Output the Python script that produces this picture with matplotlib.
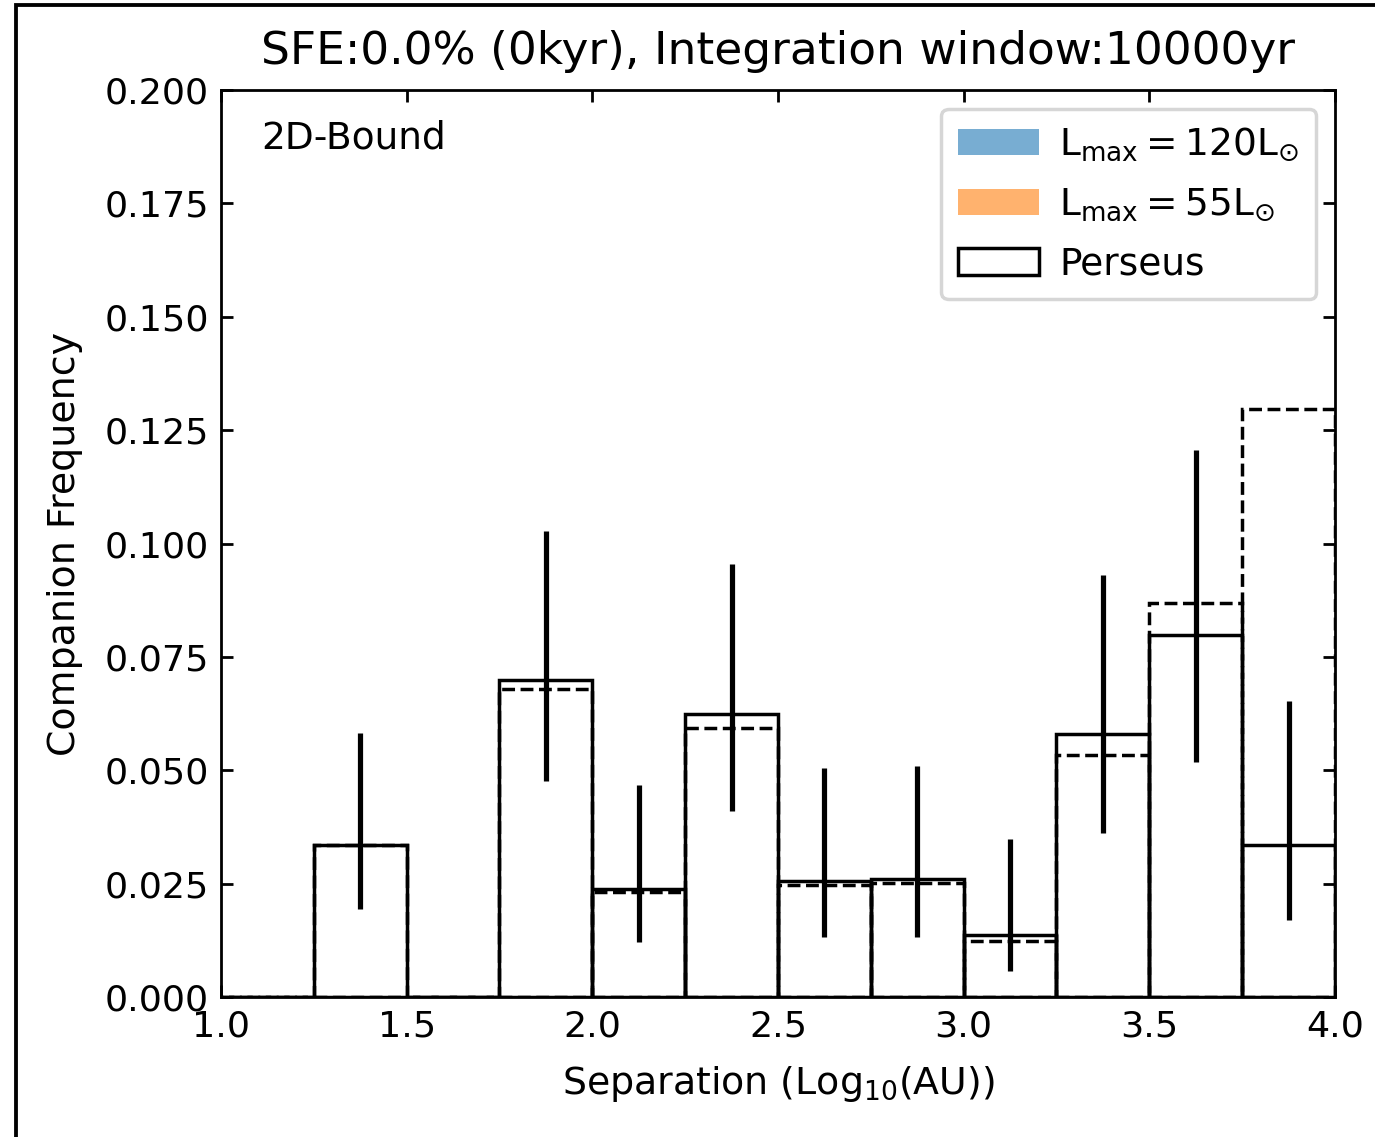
import numpy as np
import matplotlib
matplotlib.use("Agg")
import matplotlib.pyplot as plt
from matplotlib.patches import Rectangle

# Separation bins in log10(AU)
bin_edges = [1.0, 1.25, 1.5, 1.75, 2.0, 2.25, 2.5, 2.75, 3.0, 3.25, 3.5, 3.75, 4.0]

# Simulated companion frequencies (empty at SFE 0%)
freq_120 = [0, 0, 0, 0, 0, 0, 0, 0, 0, 0, 0, 0]
freq_55 = [0, 0, 0, 0, 0, 0, 0, 0, 0, 0, 0, 0]

# Perseus observed companion frequencies
perseus = [0.0, 0.0335, 0.0, 0.0699, 0.0238, 0.0624, 0.0256, 0.0260, 0.0137, 0.0580, 0.0798, 0.0335]
# Perseus, alternative sample (dashed)
perseus_dashed = [0.0, 0.0335, 0.0, 0.0679, 0.0232, 0.0593, 0.0247, 0.0251, 0.0123, 0.0534, 0.0869, 0.1297]
# Perseus error bar ranges
perseus_lo = [0.0, 0.0194, 0.0, 0.0476, 0.0121, 0.0410, 0.0132, 0.0132, 0.0057, 0.0362, 0.0518, 0.0170]
perseus_hi = [0.0, 0.0582, 0.0, 0.1028, 0.0467, 0.0955, 0.0505, 0.0509, 0.0348, 0.0931, 0.1206, 0.0653]

title = "SFE:0.0% (0kyr), Integration window:10000yr"
label_120 = r"$\mathrm{L_{max} = 120L_{\odot}}$"
label_55 = r"$\mathrm{L_{max} = 55L_{\odot}}$"

edges = np.array(bin_edges)
left = edges[:-1]
width = np.diff(edges)
centers = left + width / 2

fig = plt.figure(figsize=(5.5, 4.548), dpi=250)
ax = fig.add_axes([0.1607, 0.1231, 0.8102, 0.7977])

ax.bar(left, freq_120, width=width, align="edge", color="C0", alpha=0.6, label=label_120)
ax.bar(left, freq_55, width=width, align="edge", color="C1", alpha=0.6, label=label_55)
ax.bar(left, perseus, width=width, align="edge", fill=False, edgecolor="k",
       linewidth=1.0, label="Perseus")
ax.bar(left, perseus_dashed, width=width, align="edge", fill=False, edgecolor="k",
       linewidth=1.0, linestyle="--")

p = np.array(perseus)
lo = np.array(perseus_lo)
hi = np.array(perseus_hi)
m = p > 0
ax.errorbar(centers[m], p[m], yerr=[p[m] - lo[m], hi[m] - p[m]], fmt="none",
            ecolor="k", elinewidth=1.5)

ax.set_xlim(1.0, 4.0)
ax.set_ylim(0.0, 0.2)
ax.set_xticks([1.0, 1.5, 2.0, 2.5, 3.0, 3.5, 4.0])
ax.set_yticks([0.0, 0.025, 0.05, 0.075, 0.1, 0.125, 0.15, 0.175, 0.2])
ax.tick_params(direction="in", top=True, right=True, labelsize=10.5)
ax.set_xlabel(r"Separation (Log$_{10}$(AU))", fontsize=10.9, labelpad=6)
ax.set_ylabel("Companion Frequency", fontsize=10.9, labelpad=6)
ax.set_title(title, fontsize=13.1, pad=7.5)
ax.text(0.036, 0.968, "2D-Bound", transform=ax.transAxes, ha="left", va="top", fontsize=10.8)
ax.legend(loc="upper right", fontsize=10.8, labelspacing=0.6, handlelength=2.15,
          handletextpad=0.55, borderpad=0.45)

# Outer frame
top = 1 - 5 / 1137
fig.patches.append(Rectangle((16 / 1375, -0.05), 1.2, top + 0.05,
                             transform=fig.transFigure, fill=False,
                             edgecolor="k", linewidth=1.1, zorder=10))

fig.savefig("out.png", dpi=250)
